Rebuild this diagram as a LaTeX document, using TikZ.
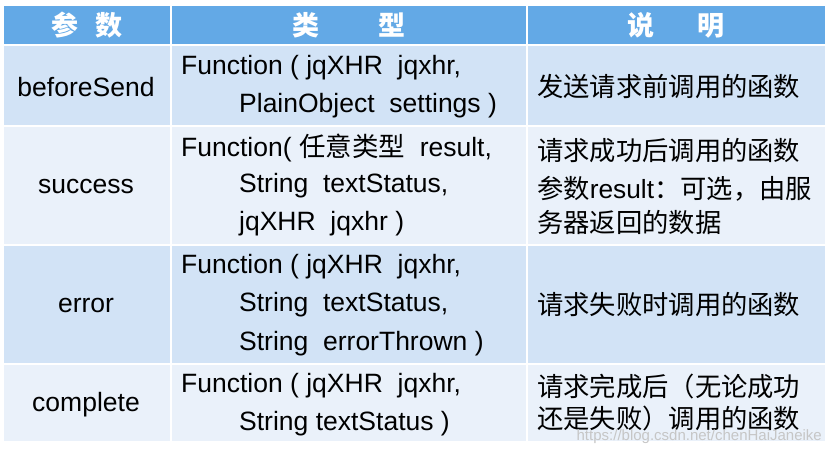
\documentclass[tikz,border=0pt]{standalone}
\usepackage{fontspec}
\setmainfont{Liberation Sans}
\newfontfamily\zh{Noto Sans CJK SC}
\begin{document}
\begin{tikzpicture}[x=1pt,y=-1pt,
  cell/.style={draw=white,line width=2.5pt},
  tx/.style={anchor=west,inner sep=0pt,font=\fontsize{26.5}{28}\selectfont},
  zt/.style={anchor=west,inner sep=0pt,font=\zh\fontsize{26.3}{28}\selectfont},
  lt/.style={inner sep=0pt,font=\fontsize{26.5}{28}\selectfont},
  hd/.style={inner sep=0pt,text=white,font=\zh\bfseries\fontsize{27}{28}\selectfont}]
\useasboundingbox (0,0) rectangle (832,454);
\fill[white] (0,0) rectangle (832,454);
\definecolor{hdc}{HTML}{63A9E6}
\definecolor{ra}{HTML}{D2E3F6}
\definecolor{rb}{HTML}{EAF1FA}
\foreach \ya/\yb/\c in {5/45/hdc,45/126/ra,126/245/rb,245/364/ra,364/442/rb}{
  \foreach \xa/\xb in {3/171,171/527,527/826}{
    \filldraw[cell,fill=\c] (\xa,\ya) rectangle (\xb,\yb);}}
\node[hd] (h1) at (87,25) {参\hspace{0.6em}数};
\node[hd] (h2) at (349,25) {类\hspace{2.2em}型};
\node[hd] (h3) at (676,25) {说\hspace{1.6em}明};
\node[lt] (a1) at (86,87) {beforeSend};
\node[lt] (a2) at (86,187) {success};
\node[lt] (a3) at (86,305) {error};
\node[lt] (a4) at (86,405) {complete};
\node[tx] (b11) at (181,68) {Function ( jqXHR\ \ jqxhr,};
\node[tx] (b12) at (239,106) {PlainObject\ \ settings )};
\node[tx] (b21) at (181,148) {Function( {\zh 任意类型}\ \ result,};
\node[tx] (b22) at (239,186) {String\ \ textStatus,};
\node[tx] (b23) at (239,224) {jqXHR\ \ jqxhr )};
\node[tx] (b31) at (181,267) {Function ( jqXHR\ \ jqxhr,};
\node[tx] (b32) at (239,305) {String\ \ textStatus,};
\node[tx] (b33) at (239,344) {String\ \ errorThrown )};
\node[tx] (b41) at (181,386) {Function ( jqXHR\ \ jqxhr,};
\node[tx] (b42) at (239,424) {String textStatus )};
\node[zt] (c1) at (537,87) {发送请求前调用的函数};
\node[zt] (c21) at (537,151) {请求成功后调用的函数};
\node[zt] (c22) at (537,189) {参数{\fontspec{Liberation Sans}result}：可选，由服};
\node[zt] (c23) at (537,222) {务器返回的数据};
\node[zt] (c3) at (537,305) {请求失败时调用的函数};
\node[zt] (c41) at (537,387) {请求完成后（无论成功};
\node[zt] (c42) at (537,419) {还是失败）调用的函数};
\node[anchor=east,inner sep=0pt,text=gray!45,font=\fontsize{15}{16}\selectfont] (wm) at (822,437) {https://blog.csdn.net/chenHaiJaneike};
\end{tikzpicture}
\end{document}
